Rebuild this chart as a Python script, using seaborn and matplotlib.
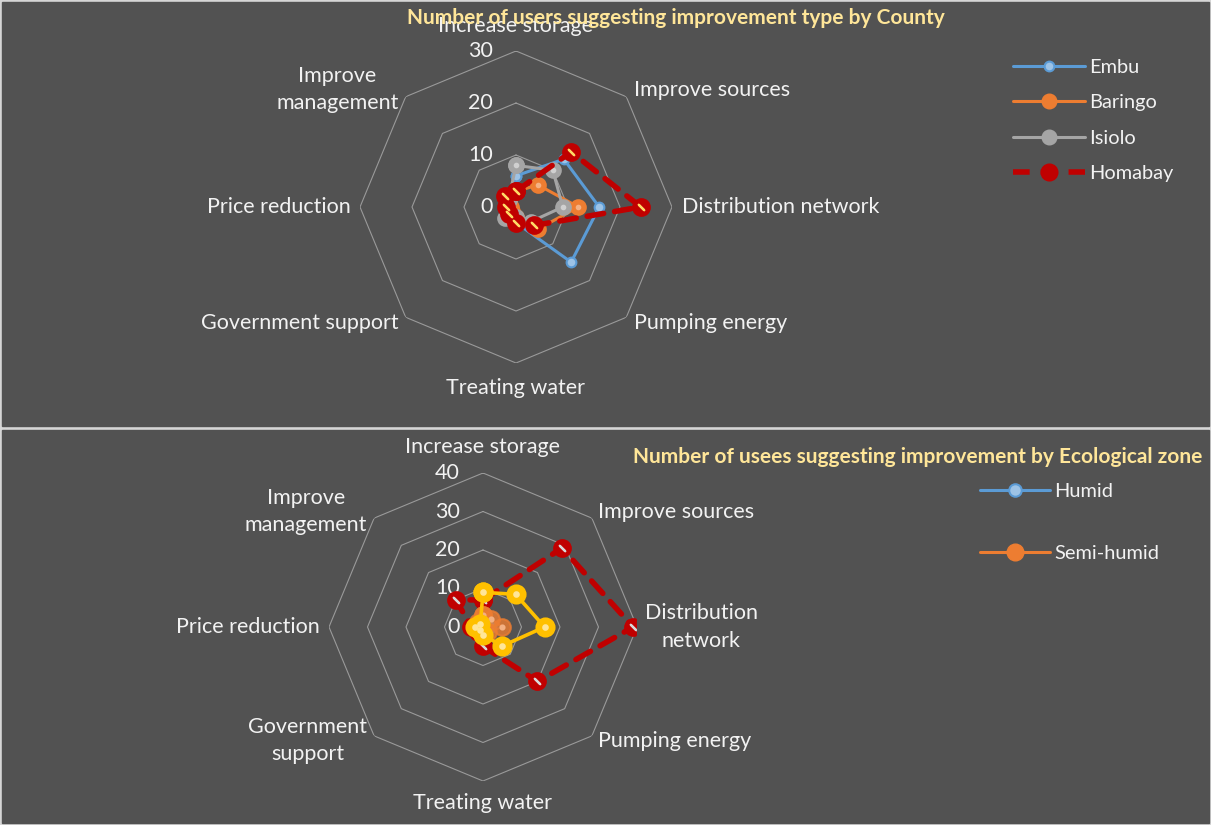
import numpy as np
import pandas as pd
import seaborn as sns
import matplotlib.pyplot as plt
from matplotlib.lines import Line2D
from matplotlib.patches import Rectangle

# ---- data -------------------------------------------------------------
categories = ["Increase storage", "Improve sources", "Distribution network",
              "Pumping energy", "Treating water", "Government support",
              "Price reduction", "Improve management"]

# users suggesting each improvement, by county
embu = [6, 13, 16, 15, 3, 1, 1, 2]
baringo = [3, 6, 12, 6, 2, 1, 1, 2]
isiolo = [8, 10, 9, 4, 2, 3, 2, 2]
homabay = [3, 15, 24, 5, 3, 2, 2, 3]

# users suggesting each improvement, by ecological zone
humid = [1, 2, 2, 1, 1, 0, 1, 1]
semi_humid = [3, 3, 5, 2, 1, 1, 1, 2]
semi_arid = [9, 12, 16, 7, 2, 1, 2, 1]
arid = [7, 29, 39, 20, 5, 2, 3, 10]

county_ticks = [0, 10, 20, 30]
zone_ticks = [0, 10, 20, 30, 40]

# ---- styling ----------------------------------------------------------
sns.set_style("dark")
plt.rcParams["font.family"] = ["Lato", "DejaVu Sans"]

BG = "#525252"
TXT = "#f2f2f2"
GRID = "#9a9a9a"
TITLE = "#ffe699"
W, H = 1211, 825
FS = 15.5

fig = plt.figure(figsize=(W / 100, H / 100), dpi=100, facecolor="#d6d6d6")
fig.add_artist(Rectangle((2 / W, (H - 426) / H), 1207 / W, 424 / H,
                         transform=fig.transFigure, color=BG, zorder=0))
fig.add_artist(Rectangle((2 / W, 2 / H), 1207 / W, 426 / H - 33 / H,
                         transform=fig.transFigure, color=BG, zorder=0))

n = len(categories)
angles = np.linspace(0, 2 * np.pi, n, endpoint=False)
loop = np.append(angles, 2 * np.pi)


def closed(vals):
    return np.append(vals, vals[0])


def radar_axes(rect, ticks):
    ax = fig.add_axes(rect, projection="polar")
    ax.set_facecolor("none")
    ax.set_theta_offset(np.pi / 2)
    ax.set_theta_direction(-1)
    ax.set_ylim(0, ticks[-1])
    ax.grid(False)
    ax.spines["polar"].set_visible(False)
    ax.set_xticks([])
    ax.set_yticks([])
    for r in ticks[1:]:
        ax.plot(loop, [r] * (n + 1), color=GRID, lw=0.8, zorder=1)
    for r in ticks:
        ax.annotate(str(r), (0, r), xytext=(-23, 0), textcoords="offset pixels",
                    ha="right", va="center", color=TXT, fontsize=FS,
                    annotation_clip=False)
    return ax


def series(ax, vals, color, lw, ms, face, edge, mew=1.5, dash=None,
           dot=None, dot_marker="o", dot_size=8, alpha=1.0, z=3):
    sns.lineplot(x=loop, y=closed(vals), ax=ax, sort=False, estimator=None,
                 color=color, lw=lw, marker="o", markersize=ms,
                 markerfacecolor=face, markeredgecolor=edge,
                 markeredgewidth=mew, alpha=alpha, zorder=z)
    line = ax.lines[-1]
    if dash is not None:
        line.set_dashes(dash)
        line.set_dash_capstyle("round")
    if dot is not None:
        sns.scatterplot(x=angles, y=vals, ax=ax, marker=dot_marker,
                        s=dot_size, color=dot, edgecolor=dot, linewidth=1.6,
                        zorder=z + 0.5)


def labels(ax, rmax, spec):
    for ang, cat, (dx, dy, ha) in zip(angles, spec[0], spec[1]):
        ax.annotate(cat, (ang, rmax), xytext=(dx, dy),
                    textcoords="offset pixels", ha=ha, va="center",
                    multialignment="center", linespacing=1.45, color=TXT,
                    fontsize=FS, annotation_clip=False)


# ---- top panel: by county --------------------------------------------
R1 = 156
ax1 = radar_axes([(516 - R1) / W, (H - 207 - R1) / H, 2 * R1 / W, 2 * R1 / H],
                 county_ticks)

series(ax1, embu, "#5b9bd5", 2.2, 7, "#9dc3e6", "#5b9bd5", z=3)
series(ax1, baringo, "#ed7d31", 2.2, 10.5, "#ed7d31", "#ed7d31",
       dot="#f4b183", dot_size=6, z=4)
series(ax1, isiolo, "#a5a5a5", 2.2, 10.5, "#a5a5a5", "#a5a5a5",
       dot="#d0d0d0", dot_size=6, z=5)
series(ax1, homabay, "#c00000", 4.0, 12, "#c00000", "#c00000",
       dash=(3.0, 2.0), dot="#ffd966", dot_marker=(2, 2, 45), dot_size=30,
       z=6)

top_labels = categories[:]
top_labels[7] = "Improve\nmanagement"
labels(ax1, county_ticks[-1], (top_labels, [
    (0, 25, "center"), (8, 7, "left"), (10, 0, "left"), (8, -6, "left"),
    (0, -25, "center"), (-7, -6, "right"), (-9, 0, "right"), (-7, 7, "right")]))

fig.text(676 / W, 1 - 18 / H,
         "Number of users suggesting improvement type by County",
         ha="center", va="center", color=TITLE, fontsize=15,
         fontweight="bold")

h_top = [
    Line2D([], [], color="#5b9bd5", lw=2.2, marker="o", ms=7,
           mfc="#9dc3e6", mec="#5b9bd5", mew=1.5),
    Line2D([], [], color="#ed7d31", lw=2.2, marker="o", ms=10.5,
           mfc="#ed7d31", mec="#ed7d31"),
    Line2D([], [], color="#a5a5a5", lw=2.2, marker="o", ms=10.5,
           mfc="#a5a5a5", mec="#a5a5a5"),
    Line2D([], [], color="#c00000", lw=4.0, marker="o", ms=12,
           mfc="#c00000", mec="#c00000", dashes=(3.0, 2.0)),
]
leg1 = fig.legend(h_top, ["Embu", "Baringo", "Isiolo", "Homabay"],
                  loc="upper left", bbox_to_anchor=(995 / W, 1 - 41 / H),
                  frameon=False, fontsize=14.4, labelcolor=TXT,
                  handlelength=3.6, handletextpad=0.2, labelspacing=0.92)

# ---- bottom panel: by ecological zone ----------------------------------
R2 = 154
ax2 = radar_axes([(483 - R2) / W, (H - 627 - R2) / H, 2 * R2 / W, 2 * R2 / H],
                 zone_ticks)

series(ax2, humid, "#5b9bd5", 2.2, 7, "#9dc3e6", "#5b9bd5", z=3)
series(ax2, arid, "#c00000", 4.0, 12, "#c00000", "#c00000",
       dash=(3.0, 2.0), dot="#d9d9d9", dot_marker=(2, 2, 45), dot_size=30,
       z=4)
series(ax2, semi_humid, "#ed7d31", 1.5, 12, "#ed7d31", "#ed7d31",
       dot="#f4b183", dot_size=8, alpha=0.8, z=5)
series(ax2, semi_arid, "#ffc000", 2.6, 13, "#ffc000", "#ffc000",
       dot="#ffe699", dot_size=10, z=6)

bottom_labels = ["Increase storage", "Improve sources",
                 "Distribution\nnetwork", "Pumping energy", "Treating water",
                 "Government\nsupport", "Price reduction",
                 "Improve\nmanagement"]
labels(ax2, zone_ticks[-1], (bottom_labels, [
    (0, 26, "center"), (6, 6, "left"), (8, 0, "left"), (6, -5, "left"),
    (0, -22, "center"), (-7, -5, "right"), (-9, 0, "right"), (-7, 7, "right")]))

fig.text(918 / W, 1 - 457 / H,
         "Number of usees suggesting improvement by Ecological zone",
         ha="center", va="center", color=TITLE, fontsize=15,
         fontweight="bold")

h_bot = [
    Line2D([], [], color="#5b9bd5", lw=2.2, marker="o", ms=9,
           mfc="#9dc3e6", mec="#5b9bd5", mew=1.5),
    Line2D([], [], color="#ed7d31", lw=2.2, marker="o", ms=12,
           mfc="#ed7d31", mec="#ed7d31"),
]
leg2 = fig.legend(h_bot, ["Humid", "Semi-humid"],
                  loc="upper left", bbox_to_anchor=(962 / W, 1 - 465 / H),
                  frameon=False, fontsize=14.4, labelcolor=TXT,
                  handlelength=3.5, handletextpad=0.2, labelspacing=2.25)

fig.savefig("out.png", dpi=100, facecolor=fig.get_facecolor())
